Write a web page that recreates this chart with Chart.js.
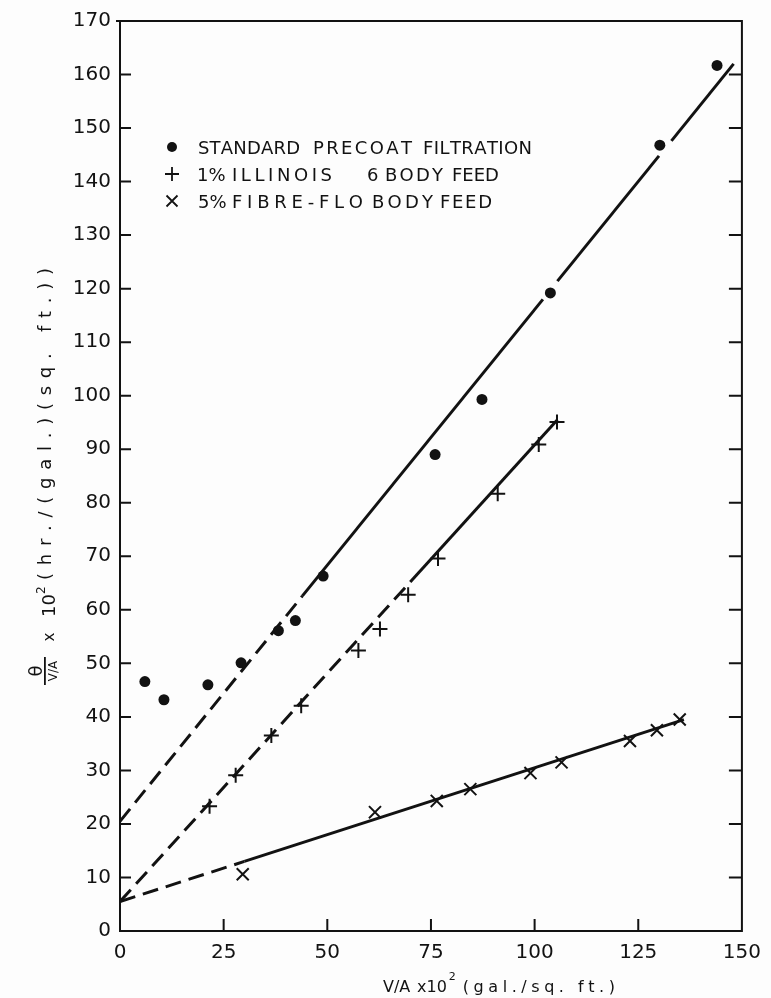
<!DOCTYPE html>
<html>
<head>
<meta charset="utf-8">
<script src="https://cdn.jsdelivr.net/npm/chart.js@4.4.0/dist/chart.umd.min.js"></script>
<style>
  html, body { margin: 0; padding: 0; background: #fdfdfd; }
  #wrap { width: 771px; height: 998px; }
</style>
</head>
<body>
<div id="wrap"><canvas id="chart" width="771" height="998"></canvas></div>
<script>
// Axis ticks
const xTickValues = [0, 25, 50, 75, 100, 125, 150];
const yTickValues = [0, 10, 20, 30, 40, 50, 60, 70, 80, 90, 100, 110, 120, 130, 140, 150, 160, 170];

// Series names
const seriesNames = [
  'STANDARD PRECOAT FILTRATION',
  '1% ILLINOIS   6 BODY FEED',
  '5% FIBRE-FLO BODY FEED'
];

// Measured points: V/A x10^2 against theta/(V/A) x10^2
const precoatX = [6.0, 10.6, 21.2, 29.2, 38.2, 42.3, 49.0, 76.0, 87.3, 103.8, 130.2, 144.0];
const precoatY = [46.6, 43.2, 46.0, 50.1, 56.1, 58.0, 66.3, 89.0, 99.3, 119.2, 146.8, 161.7];

const illinoisX = [21.6, 27.9, 36.5, 43.7, 57.5, 62.7, 69.5, 76.7, 91.1, 101.0, 105.4];
const illinoisY = [23.3, 29.1, 36.5, 42.1, 52.4, 56.4, 62.8, 69.6, 81.7, 90.9, 95.1];

const fibreX = [29.6, 61.5, 76.4, 84.5, 99.0, 106.5, 123.0, 129.5, 135.0];
const fibreY = [10.6, 22.2, 24.3, 26.5, 29.5, 31.5, 35.5, 37.5, 39.5];

// Straight lines drawn through each series (vertices along the line)
const precoatFitX = [0, 44, 102, 105.5, 130, 133, 148];
const precoatFitY = [20.5, 62.6, 118.0, 121.4, 144.8, 147.6, 162.0];
const illinoisFitX = [0, 70, 105.5];
const illinoisFitY = [5.5, 65.2, 95.5];
const fibreFitX = [0, 30, 136];
const fibreFitY = [5.5, 13.0, 39.5];

// Pen style of each stretch of those lines
const precoatFitPen = ['dash', 'solid', 'gap', 'solid', 'gap', 'solid'];
const illinoisFitPen = ['dash', 'solid'];
const fibreFitPen = ['dash', 'solid'];

const INK = '#121212';
const FONT = '"DejaVu Sans", "Liberation Sans", sans-serif';
const DASH = [16, 8];

const toPoints = (xs, ys) => xs.map((x, i) => ({ x: x, y: ys[i] }));

function fitLine(xs, ys, pens) {
  return {
    data: toPoints(xs, ys),
    showLine: true,
    pointRadius: 0,
    borderColor: INK,
    borderWidth: 3,
    borderCapStyle: 'butt',
    order: 2,
    segment: {
      borderDash: ctx => pens[ctx.p0DataIndex] === 'dash' ? DASH : [],
      borderColor: ctx => pens[ctx.p0DataIndex] === 'gap' ? 'rgba(0,0,0,0)' : INK
    }
  };
}

// Draw a string so that it runs from x0 to x1, spreading the letters evenly
function spread(ctx, text, x0, x1, y) {
  const chars = Array.from(text);
  let total = 0;
  const widths = chars.map(c => { const w = ctx.measureText(c).width; total += w; return w; });
  const gap = chars.length > 1 ? Math.max(0, (x1 - x0 - total) / (chars.length - 1)) : 0;
  let cx = x0;
  ctx.textAlign = 'left';
  chars.forEach((c, i) => { ctx.fillText(c, cx, y); cx += widths[i] + gap; });
}

function marker(ctx, style, x, y, r) {
  ctx.beginPath();
  if (style === 'circle') {
    ctx.arc(x, y, r, 0, Math.PI * 2);
    ctx.fill();
    return;
  }
  if (style === 'cross') {
    ctx.moveTo(x - r, y); ctx.lineTo(x + r, y);
    ctx.moveTo(x, y - r); ctx.lineTo(x, y + r);
  } else {
    ctx.moveTo(x - r, y - r); ctx.lineTo(x + r, y + r);
    ctx.moveTo(x - r, y + r); ctx.lineTo(x + r, y - r);
  }
  ctx.stroke();
}

// Word spans (left, right) of each key row
const keyWordSpans = [
  [[198, 300], [313, 412], [423, 532]],
  [[197, 222], [232, 332], [367, 377], [385, 443], [452, 493]],
  [[198, 222], [232, 363], [372, 433], [440, 492]]
];

const paperPlugin = {
  id: 'paper',
  beforeDraw(chart) {
    const ctx = chart.ctx;
    ctx.save();
    ctx.fillStyle = '#fdfdfd';
    ctx.fillRect(0, 0, chart.width, chart.height);
    ctx.restore();
  },
  afterDraw(chart) {
    const ctx = chart.ctx;
    const { left, right, top, bottom } = chart.chartArea;
    const xs = chart.scales.x, ys = chart.scales.y;
    ctx.save();
    ctx.strokeStyle = INK;
    ctx.fillStyle = INK;
    ctx.lineWidth = 2;

    // top and right edges of the frame
    ctx.beginPath();
    ctx.moveTo(left - 4, top);
    ctx.lineTo(right, top);
    ctx.lineTo(right, bottom + 1);
    ctx.stroke();

    // inward tick marks
    ctx.beginPath();
    yTickValues.forEach(v => {
      if (v === 0 || v === 170) return;
      const py = ys.getPixelForValue(v);
      ctx.moveTo(left, py); ctx.lineTo(left + 11, py);
      ctx.moveTo(right, py); ctx.lineTo(right - 13, py);
    });
    xTickValues.forEach(v => {
      if (v === 0 || v === 150) return;
      const px = xs.getPixelForValue(v);
      ctx.moveTo(px, bottom); ctx.lineTo(px, bottom - 12);
    });
    ctx.stroke();

    // key
    const keyStyles = [['circle', 5], ['cross', 7], ['crossRot', 5.5]];
    const keyRows = [147, 174, 201];
    ctx.font = '18px ' + FONT;
    ctx.textBaseline = 'alphabetic';
    keyRows.forEach((cy, i) => {
      ctx.lineWidth = 1.8;
      marker(ctx, keyStyles[i][0], 172, cy, keyStyles[i][1]);
      const words = seriesNames[i].split(/\s+/);
      words.forEach((w, j) => {
        const span = keyWordSpans[i][j];
        spread(ctx, w, span[0], span[1], cy + 6.5);
      });
    });

    // x axis title
    ctx.textAlign = 'left';
    ctx.font = '16px ' + FONT;
    ctx.fillText('V/A', 383, 992);
    ctx.fillText('x10', 417, 992);
    const supX = 417 + ctx.measureText('x10').width + 2;
    ctx.font = '11px ' + FONT;
    ctx.fillText('2', supX, 980);
    ctx.font = '16px ' + FONT;
    spread(ctx, '(gal./sq. ft.)', supX + 14, 615, 992);

    // y axis title, written sideways
    ctx.save();
    ctx.rotate(-Math.PI / 2);
    ctx.textBaseline = 'alphabetic';
    ctx.font = '18px ' + FONT;
    ctx.textAlign = 'center';
    ctx.fillText('\u03B8', -671, 42);
    ctx.fillRect(-685, 44, 28, 1.8);
    ctx.font = '12px ' + FONT;
    ctx.fillText('V/A', -671, 57);
    ctx.font = '15px ' + FONT;
    ctx.fillText('x', -637, 54);
    ctx.font = '18px ' + FONT;
    ctx.textAlign = 'left';
    ctx.fillText('10', -617, 55);
    ctx.font = '12px ' + FONT;
    ctx.fillText('2', -594, 45);
    ctx.font = '18px ' + FONT;
    spread(ctx, '(hr./(gal.)(sq. ft.))', -580, -268, 51);
    ctx.restore();

    ctx.restore();
  }
};

const tickFont = { family: FONT, size: 20 };

new Chart(document.getElementById('chart'), {
  type: 'scatter',
  data: {
    datasets: [
      {
        label: seriesNames[0],
        data: toPoints(precoatX, precoatY),
        pointStyle: 'circle',
        pointRadius: 5.5,
        pointBackgroundColor: INK,
        pointBorderColor: INK,
        pointBorderWidth: 0,
        order: 1
      },
      {
        label: seriesNames[1],
        data: toPoints(illinoisX, illinoisY),
        pointStyle: 'cross',
        pointRadius: 7.5,
        pointBorderColor: INK,
        pointBorderWidth: 2,
        order: 1
      },
      {
        label: seriesNames[2],
        data: toPoints(fibreX, fibreY),
        pointStyle: 'crossRot',
        pointRadius: 8.5,
        pointBorderColor: INK,
        pointBorderWidth: 2,
        order: 1
      },
      fitLine(precoatFitX, precoatFitY, precoatFitPen),
      fitLine(illinoisFitX, illinoisFitY, illinoisFitPen),
      fitLine(fibreFitX, fibreFitY, fibreFitPen)
    ]
  },
  options: {
    responsive: false,
    animation: false,
    devicePixelRatio: 1,
    layout: { padding: { left: 0, right: 27, top: 19, bottom: 0 } },
    plugins: {
      legend: { display: false },
      tooltip: { enabled: false }
    },
    scales: {
      x: {
        type: 'linear',
        min: 0,
        max: 150,
        afterBuildTicks: s => { s.ticks = xTickValues.map(v => ({ value: v })); },
        afterFit: s => { s.height = 67; },
        grid: { display: false, drawTicks: false },
        border: { display: true, color: INK, width: 2 },
        ticks: { padding: 10, font: tickFont, color: INK, maxRotation: 0, autoSkip: false }
      },
      y: {
        type: 'linear',
        min: 0,
        max: 170,
        afterBuildTicks: s => { s.ticks = yTickValues.map(v => ({ value: v })); },
        afterFit: s => { s.width = 120; },
        grid: { display: false, drawTicks: false },
        border: { display: true, color: INK, width: 2 },
        ticks: { padding: 9, font: tickFont, color: INK, autoSkip: false }
      }
    }
  },
  plugins: [paperPlugin]
});
</script>
</body>
</html>
